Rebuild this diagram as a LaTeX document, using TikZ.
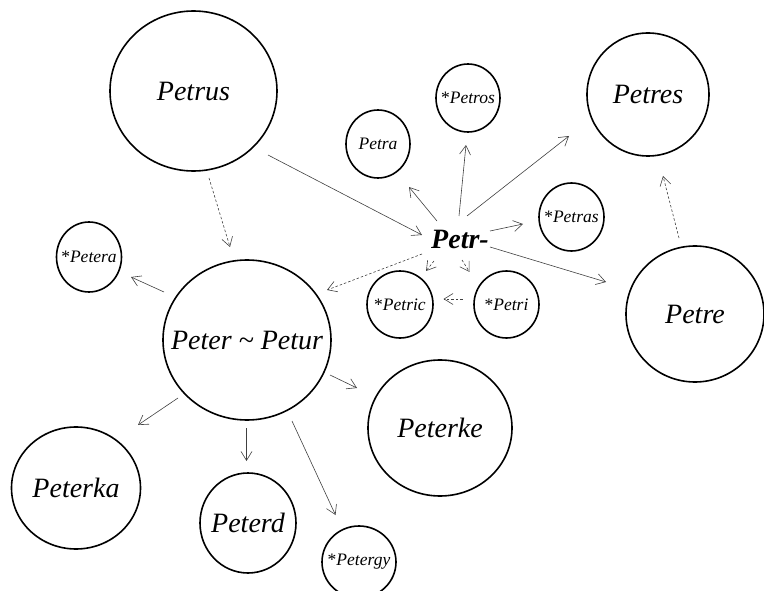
\documentclass[tikz,border=0pt]{standalone}
\usepackage{fontspec}
\setmainfont{Liberation Serif}
\usetikzlibrary{arrows.meta,calc,shapes.geometric}
\newcommand{\zw}[1]{\makebox[0pt]{#1}}
\tikzset{
  circ/.style={ellipse,draw=black,line width=1.6pt,inner sep=0pt,font=\fontsize{28}{30}\selectfont\itshape},
  smallcirc/.style={circ,font=\fontsize{17.5}{19}\selectfont\itshape},
  conn/.style={draw=black!75,line width=0.6pt,-{Straight Barb[length=9pt,width=11pt,line width=0.6pt]}},
  dconn/.style={conn,dash pattern=on 2.5pt off 2pt}
}
\newcommand{\astr}{{\upshape *}}
\begin{document}
\begin{tikzpicture}[x=1pt,y=-1pt]
\useasboundingbox (0,0) rectangle (764,591);
\node[circ,minimum width=167pt,minimum height=160pt] (petrus) at (193.5,91) {\zw{Petrus}};
\node[smallcirc,minimum width=64pt,minimum height=68pt] (petra) at (378,144) {\zw{Petra}};
\node[smallcirc,minimum width=64pt,minimum height=68pt] (petros) at (468,98) {\zw{\astr Petros}};
\node[circ,minimum width=122pt,minimum height=123pt] (petres) at (648,94.5) {\zw{Petres}};
\node[smallcirc,minimum width=65pt,minimum height=68pt] (petras) at (571.5,217) {\zw{\astr Petras}};
\node[inner sep=2pt,font=\fontsize{28}{30}\selectfont\bfseries\itshape] (petr) at (460,239) {Petr-};
\node[smallcirc,minimum width=66pt,minimum height=67pt] (petric) at (400,304.5) {\zw{\astr Petric}};
\node[smallcirc,minimum width=65pt,minimum height=67pt] (petri) at (506.5,304.5) {\zw{\astr Petri}};
\node[circ,minimum width=138pt,minimum height=136pt] (petre) at (695,314) {\zw{Petre}};
\node[smallcirc,minimum width=65pt,minimum height=70pt] (petera) at (89,257) {\zw{\astr Petera}};
\node[circ,minimum width=168pt,minimum height=160pt] (peter) at (247,340) {\zw{Peter \textasciitilde{} Petur}};
\node[circ,minimum width=144pt,minimum height=136pt] (peterke) at (440,428) {\zw{Peterke}};
\node[circ,minimum width=129pt,minimum height=122pt] (peterka) at (76,488) {\zw{Peterka}};
\node[circ,minimum width=96pt,minimum height=100pt] (peterd) at (248,523) {\zw{Peterd}};
\node[smallcirc,minimum width=74pt,minimum height=72pt] (petergy) at (359,562) {\zw{\astr Petergy}};

\draw[conn] ($(petrus)+(74.5,64)$) -- ($(petr)+(-38,-4)$);
\draw[dconn] ($(petrus)+(15.5,87)$) -- ($(peter)+(-17,-93)$);
\draw[conn] ($(petr)+(-23,-18)$) -- ($(petra)+(31,43)$);
\draw[conn] ($(petr)+(-1,-23)$) -- ($(petros)+(-2,47)$);
\draw[conn] ($(petr)+(7,-23)$) -- ($(petres)+(-79,41.5)$);
\draw[conn] ($(petr)+(30,-8)$) -- ($(petras)+(-48.5,7)$);
\draw[conn] ($(petr)+(30,8)$) -- ($(petre)+(-89,-32)$);
\draw[dconn] ($(petr)+(-38,15)$) -- ($(peter)+(80,-50)$);
\draw[dconn] ($(petr)+(-26,22)$) -- ($(petric)+(26,-33.5)$);
\draw[dconn] ($(petr)+(2,21)$) -- ($(petri)+(-37,-32.5)$);
\draw[dconn] ($(petri)+(-44,-5.5)$) -- ($(petric)+(43.5,-5.5)$);
\draw[dconn] ($(petre)+(-16,-76)$) -- ($(petres)+(15,81.5)$);
\draw[conn] ($(peter)+(-83,-48)$) -- ($(petera)+(42,20)$);
\draw[conn] ($(peter)+(83,35)$) -- ($(peterke)+(-83,-40)$);
\draw[conn] ($(peter)+(-69,58)$) -- ($(peterka)+(62,-63)$);
\draw[conn] ($(peter)+(-0.5,88)$) -- ($(peterd)+(-1.5,-62)$);
\draw[conn] ($(peter)+(45,81)$) -- ($(petergy)+(-23.5,-47)$);
\end{tikzpicture}
\end{document}
